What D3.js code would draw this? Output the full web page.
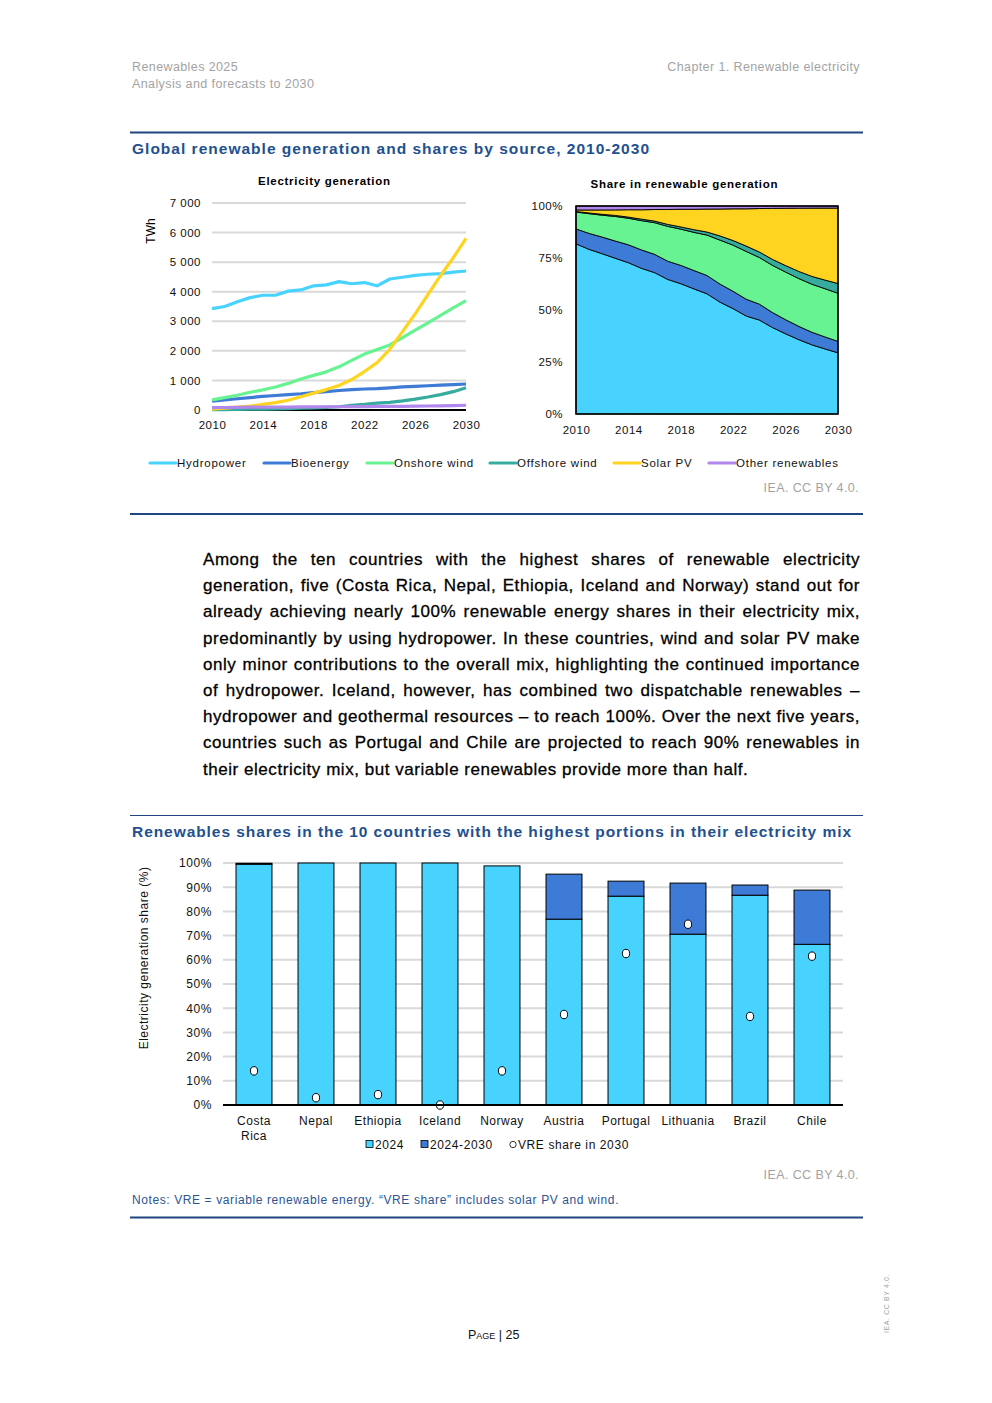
<!DOCTYPE html>
<html>
<head>
<meta charset="utf-8">
<script src="https://cdn.jsdelivr.net/npm/d3@7"></script>
<style>
  body { margin: 0; background: #fff; }
  svg { display: block; font-family: "Liberation Sans", Arial, sans-serif; }
</style>
</head>
<body>
<svg id="page" width="992" height="1403"></svg>
<script>
// -------------------------------------------------------------------------
// Data
const years = [2010, 2011, 2012, 2013, 2014, 2015, 2016, 2017, 2018, 2019, 2020,
  2021, 2022, 2023, 2024, 2025, 2026, 2027, 2028, 2029, 2030];
const hydro = [3430, 3500, 3660, 3800, 3880, 3880, 4020, 4060, 4200, 4230, 4340,
  4270, 4310, 4200, 4430, 4490, 4550, 4590, 4610, 4660, 4700];
const bioenergy = [300, 340, 380, 420, 460, 490, 520, 550, 590, 620, 660,
  690, 710, 720, 750, 780, 800, 820, 840, 860, 880];
const onshoreWind = [340, 420, 500, 600, 680, 780, 900, 1050, 1170, 1290, 1460,
  1680, 1890, 2050, 2200, 2450, 2700, 2950, 3200, 3450, 3700];
const offshoreWind = [10, 15, 20, 25, 30, 40, 45, 60, 70, 90, 110,
  160, 190, 230, 260, 310, 370, 440, 520, 620, 750];
const solarPV = [32, 63, 100, 135, 190, 250, 330, 450, 570, 690, 830,
  1030, 1300, 1600, 2050, 2650, 3250, 3900, 4550, 5150, 5800];
const otherRenewables = [80, 85, 90, 95, 95, 100, 100, 105, 105, 110, 110,
  115, 115, 120, 120, 125, 130, 135, 140, 150, 160];

const sourceNames = ['Hydropower', 'Bioenergy', 'Onshore wind', 'Offshore wind', 'Solar PV', 'Other renewables'];
const genTicks = [0, 1000, 2000, 3000, 4000, 5000, 6000, 7000];
const shareTicks = [0, 0.25, 0.5, 0.75, 1];
const yearTicks = [2010, 2014, 2018, 2022, 2026, 2030];

const countries = ['Costa Rica', 'Nepal', 'Ethiopia', 'Iceland', 'Norway',
  'Austria', 'Portugal', 'Lithuania', 'Brazil', 'Chile'];
const share2024 = [99.5, 100, 100, 100, 98.8, 76.8, 86.3, 70.6, 86.7, 66.4];
const growth2030 = [0.4, 0, 0, 0, 0, 18.6, 6.2, 21.1, 4.2, 22.4];
const vreShare2030 = [14.1, 3.0, 4.3, 0, 14.1, 37.4, 62.6, 74.7, 36.6, 61.5];
const barTicks = [0, 0.1, 0.2, 0.3, 0.4, 0.5, 0.6, 0.7, 0.8, 0.9, 1];

const paragraph = [
  'Among the ten countries with the highest shares of renewable electricity',
  'generation, five (Costa Rica, Nepal, Ethiopia, Iceland and Norway) stand out for',
  'already achieving nearly 100% renewable energy shares in their electricity mix,',
  'predominantly by using hydropower. In these countries, wind and solar PV make',
  'only minor contributions to the overall mix, highlighting the continued importance',
  'of hydropower. Iceland, however, has combined two dispatchable renewables –',
  'hydropower and geothermal resources – to reach 100%. Over the next five years,',
  'countries such as Portugal and Chile are projected to reach 90% renewables in',
  'their electricity mix, but variable renewables provide more than half.'
];

// -------------------------------------------------------------------------
// Styles
const colors = ['#48d3ff', '#3e7bd6', '#68f392', '#36ab9e', '#ffd420', '#b187ec'];
const NAVY = '#1f4680';
const TITLE = '#23508e';
const GREY = '#a3a3a3';
const GRID = '#d9d9d9';

const svg = d3.select('#page');
const series = [hydro, bioenergy, onshoreWind, offshoreWind, solarPV, otherRenewables];
const spaced = d3.format(',');
const thousands = d => spaced(d).replace(/,/g, ' ');

// -------------------------------------------------------------------------
// Page header
svg.append('text').attr('x', 132).attr('y', 71).attr('fill', GREY)
  .attr('font-size', 12.5).attr('letter-spacing', 0.4).text('Renewables 2025');
svg.append('text').attr('x', 132).attr('y', 88).attr('fill', GREY)
  .attr('font-size', 12.5).attr('letter-spacing', 0.4).text('Analysis and forecasts to 2030');
svg.append('text').attr('x', 860).attr('y', 71).attr('fill', GREY)
  .attr('font-size', 12.5).attr('letter-spacing', 0.4).attr('text-anchor', 'end')
  .text('Chapter 1. Renewable electricity');

function rule(y, w) {
  svg.append('line').attr('x1', 130).attr('x2', 863).attr('y1', y).attr('y2', y)
    .attr('stroke', NAVY).attr('stroke-width', w);
}
rule(132.5, 2);
rule(514, 2);
rule(815.5, 1);
rule(1217.5, 2);

svg.append('text').attr('x', 132).attr('y', 154).attr('fill', TITLE)
  .attr('font-size', 15.5).attr('font-weight', 'bold')
  .attr('textLength', 517).attr('lengthAdjust', 'spacing')
  .text('Global renewable generation and shares by source, 2010-2030');

// -------------------------------------------------------------------------
// Left chart: electricity generation
const xL = d3.scaleLinear().domain([2010, 2030]).range([212, 466]);
const yL = d3.scaleLinear().domain([0, 7000]).range([410, 203]);

svg.append('text').attr('x', 324).attr('y', 185).attr('text-anchor', 'middle')
  .attr('font-size', 11.5).attr('font-weight', 'bold')
  .attr('textLength', 132).attr('lengthAdjust', 'spacing')
  .text('Electricity generation');

svg.append('text').attr('transform', 'translate(155,231) rotate(-90)')
  .attr('text-anchor', 'middle').attr('font-size', 12).text('TWh');

svg.append('g').selectAll('line').data(genTicks.slice(1)).enter().append('line')
  .attr('x1', xL(2010)).attr('x2', xL(2030))
  .attr('y1', d => yL(d)).attr('y2', d => yL(d))
  .attr('stroke', GRID).attr('stroke-width', 2);

const axL = svg.append('g').attr('transform', `translate(${xL(2010)},0)`)
  .call(d3.axisLeft(yL).tickValues(genTicks).tickSize(0).tickPadding(11).tickFormat(thousands));
const axLx = svg.append('g').attr('transform', `translate(0,${yL(0)})`)
  .call(d3.axisBottom(xL).tickValues(yearTicks).tickSize(0).tickPadding(11).tickFormat(d3.format('d')));
[axL, axLx].forEach(ax => {
  ax.select('.domain').remove();
  ax.selectAll('text').attr('font-size', 11.5).attr('fill', '#111')
    .attr('font-family', '"Liberation Sans", Arial, sans-serif').attr('letter-spacing', 0.5);
});

svg.append('line').attr('x1', xL(2010)).attr('x2', xL(2030))
  .attr('y1', yL(0)).attr('y2', yL(0)).attr('stroke', '#000').attr('stroke-width', 2);

const lineGen = d3.line().x((d, i) => xL(years[i])).y(d => yL(d));
series.forEach((s, k) => {
  svg.append('path').datum(s).attr('d', lineGen).attr('fill', 'none')
    .attr('stroke', colors[k]).attr('stroke-width', 3.2).attr('stroke-linejoin', 'round');
});

// -------------------------------------------------------------------------
// Right chart: share in renewable generation
const xR = d3.scaleLinear().domain([2010, 2030]).range([576, 838]);
const yR = d3.scaleLinear().domain([0, 1]).range([414, 206]);

svg.append('text').attr('x', 684).attr('y', 188).attr('text-anchor', 'middle')
  .attr('font-size', 11.5).attr('font-weight', 'bold')
  .attr('textLength', 187).attr('lengthAdjust', 'spacing')
  .text('Share in renewable generation');

const rows = years.map((y, i) => {
  const row = { year: y };
  sourceNames.forEach((n, k) => { row[n] = series[k][i]; });
  return row;
});
const stacked = d3.stack().keys(sourceNames).offset(d3.stackOffsetExpand)(rows);
const areaGen = d3.area().x(d => xR(d.data.year)).y0(d => yR(d[0])).y1(d => yR(d[1]));

svg.append('g').selectAll('path').data(stacked).enter().append('path')
  .attr('d', areaGen).attr('fill', (d, i) => colors[i])
  .attr('stroke', '#000').attr('stroke-width', 0.9);

svg.append('rect').attr('x', xR(2010)).attr('y', yR(1))
  .attr('width', xR(2030) - xR(2010)).attr('height', yR(0) - yR(1))
  .attr('fill', 'none').attr('stroke', '#000').attr('stroke-width', 1.5);

const axR = svg.append('g').attr('transform', `translate(${xR(2010)},0)`)
  .call(d3.axisLeft(yR).tickValues(shareTicks).tickSize(0).tickPadding(13).tickFormat(d3.format('.0%')));
const axRx = svg.append('g').attr('transform', `translate(0,${yR(0)})`)
  .call(d3.axisBottom(xR).tickValues(yearTicks).tickSize(0).tickPadding(12).tickFormat(d3.format('d')));
[axR, axRx].forEach(ax => {
  ax.select('.domain').remove();
  ax.selectAll('text').attr('font-size', 11.5).attr('fill', '#111')
    .attr('font-family', '"Liberation Sans", Arial, sans-serif').attr('letter-spacing', 0.5);
});

// Legend
const legendX = [150, 264, 367, 490, 614, 709];
const legend = svg.append('g').selectAll('g').data(sourceNames).enter().append('g')
  .attr('transform', (d, i) => `translate(${legendX[i]},463)`);
legend.append('line').attr('x1', 0).attr('x2', 26).attr('y1', 0).attr('y2', 0)
  .attr('stroke', (d, i) => colors[i]).attr('stroke-width', 3.2).attr('stroke-linecap', 'round');
legend.append('text').attr('x', 27).attr('y', 4).attr('font-size', 11.5)
  .attr('letter-spacing', 0.75).attr('fill', '#111').text(d => d);

svg.append('text').attr('x', 859).attr('y', 492).attr('text-anchor', 'end')
  .attr('font-size', 12.5).attr('letter-spacing', 0.4).attr('fill', GREY).text('IEA. CC BY 4.0.');

// -------------------------------------------------------------------------
// Body paragraph, justified word by word
const para = svg.append('g').attr('font-size', 17).attr('letter-spacing', 0.55)
  .attr('fill', '#000').attr('stroke', '#000').attr('stroke-width', 0.3);
const paraLeft = 203, paraWidth = 657;
paragraph.forEach((line, li) => {
  const y = 565 + li * 26.2;
  const words = line.split(' ');
  const nodes = words.map(w => para.append('text').attr('y', y).text(w));
  const widths = nodes.map(n => n.node().getComputedTextLength());
  const last = li === paragraph.length - 1;
  const gap = last ? 5.2 : (paraWidth - d3.sum(widths)) / (words.length - 1);
  let x = paraLeft;
  nodes.forEach((n, i) => { n.attr('x', x); x += widths[i] + gap; });
});

// -------------------------------------------------------------------------
// Bar chart: renewables shares in 10 countries
svg.append('text').attr('x', 132).attr('y', 837).attr('fill', TITLE)
  .attr('font-size', 15.5).attr('font-weight', 'bold')
  .attr('textLength', 719).attr('lengthAdjust', 'spacing')
  .text('Renewables shares in the 10 countries with the highest portions in their electricity mix');

const xB = d3.scaleBand().domain(countries).range([223, 843]).paddingInner(0.42).paddingOuter(0.21);
const yB = d3.scaleLinear().domain([0, 1]).range([1105, 863]);

svg.append('g').selectAll('line').data(barTicks.slice(1)).enter().append('line')
  .attr('x1', 223).attr('x2', 843)
  .attr('y1', d => yB(d)).attr('y2', d => yB(d))
  .attr('stroke', GRID).attr('stroke-width', 2);

const axB = svg.append('g').attr('transform', 'translate(223,0)')
  .call(d3.axisLeft(yB).tickValues(barTicks).tickSize(0).tickPadding(11).tickFormat(d3.format('.0%')));
axB.select('.domain').remove();
axB.selectAll('text').attr('font-size', 12).attr('fill', '#111').attr('letter-spacing', 0.6)
  .attr('font-family', '"Liberation Sans", Arial, sans-serif');

svg.append('text').attr('transform', 'translate(148,958) rotate(-90)')
  .attr('text-anchor', 'middle').attr('font-size', 12).attr('letter-spacing', 0.5)
  .attr('fill', '#111').text('Electricity generation share (%)');

const bars = svg.append('g').selectAll('g').data(countries).enter().append('g');
bars.append('rect')
  .attr('x', d => xB(d)).attr('width', xB.bandwidth())
  .attr('y', (d, i) => yB(share2024[i] / 100))
  .attr('height', (d, i) => yB(0) - yB(share2024[i] / 100))
  .attr('fill', colors[0]).attr('stroke', '#000').attr('stroke-width', 1);
bars.filter((d, i) => growth2030[i] > 0).append('rect')
  .attr('x', d => xB(d)).attr('width', xB.bandwidth())
  .attr('y', d => { const i = countries.indexOf(d); return yB((share2024[i] + growth2030[i]) / 100); })
  .attr('height', d => { const i = countries.indexOf(d); return yB(share2024[i] / 100) - yB((share2024[i] + growth2030[i]) / 100); })
  .attr('fill', colors[1]).attr('stroke', '#000').attr('stroke-width', 1);

svg.append('line').attr('x1', 223).attr('x2', 843).attr('y1', yB(0)).attr('y2', yB(0))
  .attr('stroke', '#000').attr('stroke-width', 2.2);

bars.append('ellipse')
  .attr('cx', d => xB(d) + xB.bandwidth() / 2)
  .attr('cy', (d, i) => yB(vreShare2030[i] / 100))
  .attr('rx', 3.6).attr('ry', 4.2)
  .attr('fill', '#fff').attr('stroke', '#000').attr('stroke-width', 1);

const xLabels = svg.append('g').selectAll('text').data(countries).enter().append('text')
  .attr('x', d => xB(d) + xB.bandwidth() / 2).attr('y', 1125)
  .attr('text-anchor', 'middle').attr('font-size', 12).attr('letter-spacing', 0.5).attr('fill', '#111');
xLabels.each(function(d) {
  const parts = d === 'Costa Rica' ? ['Costa', 'Rica'] : [d];
  parts.forEach((p, j) => {
    d3.select(this).append('tspan').attr('x', xB(d) + xB.bandwidth() / 2)
      .attr('dy', j === 0 ? 0 : 15).text(p);
  });
});

// Bar legend
const barLegend = svg.append('g').attr('font-size', 12).attr('letter-spacing', 0.6).attr('fill', '#111');
barLegend.append('rect').attr('x', 366).attr('y', 1140.5).attr('width', 7).attr('height', 7)
  .attr('fill', colors[0]).attr('stroke', '#000').attr('stroke-width', 0.8);
barLegend.append('text').attr('x', 375).attr('y', 1149).text('2024');
barLegend.append('rect').attr('x', 421).attr('y', 1140.5).attr('width', 7).attr('height', 7)
  .attr('fill', colors[1]).attr('stroke', '#000').attr('stroke-width', 0.8);
barLegend.append('text').attr('x', 430).attr('y', 1149).text('2024-2030');
barLegend.append('circle').attr('cx', 513).attr('cy', 1144.5).attr('r', 3.2)
  .attr('fill', '#fff').attr('stroke', '#000').attr('stroke-width', 0.8);
barLegend.append('text').attr('x', 518).attr('y', 1149).text('VRE share in 2030');

svg.append('text').attr('x', 859).attr('y', 1179).attr('text-anchor', 'end')
  .attr('font-size', 12.5).attr('letter-spacing', 0.4).attr('fill', GREY).text('IEA. CC BY 4.0.');

svg.append('text').attr('x', 132).attr('y', 1204).attr('font-size', 12).attr('letter-spacing', 0.6)
  .attr('fill', '#2c5593').text('Notes: VRE = variable renewable energy. “VRE share” includes solar PV and wind.');

// -------------------------------------------------------------------------
// Footer
svg.append('text').attr('x', 468).attr('y', 1339).attr('font-size', 12.5)
  .attr('font-variant', 'small-caps').attr('fill', '#111').text('Page | 25');
svg.append('text').attr('transform', 'translate(889,1333) rotate(-90)')
  .attr('font-size', 7).attr('fill', GREY).attr('letter-spacing', 0.6).text('IEA. CC BY 4.0.');
</script>
</body>
</html>
